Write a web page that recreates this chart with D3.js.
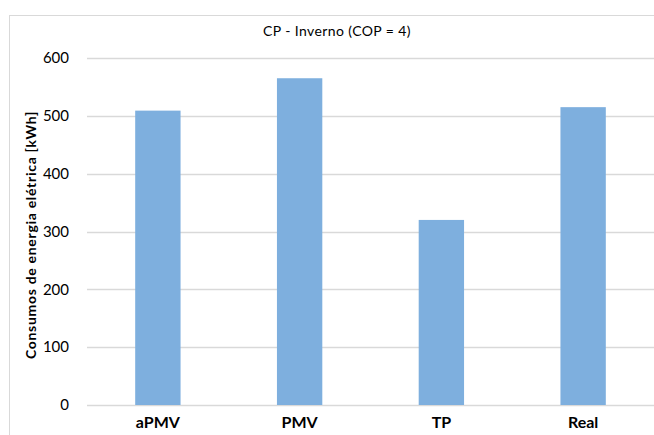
<!DOCTYPE html>
<html lang="pt">
<head>
<meta charset="utf-8">
<title>CP - Inverno</title>
<script src="https://cdn.jsdelivr.net/npm/d3@7"></script>
<style>
body { margin: 0; background: #fff; }
svg { display: block; font-family: Lato, "Open Sans", sans-serif; }
</style>
</head>
<body>
<script>
// data
var categories = ["aPMV", "PMV", "TP", "Real"];
var values = [509, 565, 320, 515];
var yTicks = [0, 100, 200, 300, 400, 500, 600];

var w = 654, h = 435;
var plotLeft = 87, plotRight = 654, plotTop = 58, plotBottom = 405;

var svg = d3.select("body").append("svg")
    .attr("width", w)
    .attr("height", h);

// chart area border (cropped on the right and bottom)
svg.append("rect")
    .attr("x", 9.5).attr("y", 15.5)
    .attr("width", 700).attr("height", 500)
    .attr("fill", "#fff")
    .attr("stroke", "#d9d9d9");

var x = d3.scaleBand()
    .domain(categories)
    .range([plotLeft, plotRight])
    .paddingInner(0.68)
    .paddingOuter(0.34);

var y = d3.scaleLinear()
    .domain([0, 600])
    .range([plotBottom, plotTop]);

// gridlines
svg.append("g")
    .selectAll("line")
    .data(yTicks)
    .enter()
    .append("line")
    .attr("x1", plotLeft).attr("x2", plotRight)
    .attr("y1", function(d) { return Math.round(y(d)) + 0.5; })
    .attr("y2", function(d) { return Math.round(y(d)) + 0.5; })
    .attr("stroke", "#d9d9d9")
    .attr("stroke-width", 1.3);

// y axis labels
var yAxis = d3.axisLeft(y).tickValues(yTicks).tickSize(0).tickPadding(18);
var gy = svg.append("g")
    .attr("transform", "translate(" + plotLeft + ",0)")
    .call(yAxis);
gy.select(".domain").remove();
gy.selectAll("text")
    .attr("font-size", 15)
    .attr("fill", "#000")
    .attr("font-family", "Lato, sans-serif");

// bars
svg.append("g")
    .selectAll("rect")
    .data(values)
    .enter()
    .append("rect")
    .attr("x", function(d, i) { return x(categories[i]); })
    .attr("y", function(d) { return y(d); })
    .attr("width", x.bandwidth())
    .attr("height", function(d) { return y(0) - y(d); })
    .attr("fill", "#7eafde");

// x axis labels
var xAxis = d3.axisBottom(x).tickSize(0).tickPadding(12);
var gx = svg.append("g")
    .attr("transform", "translate(0," + plotBottom + ")")
    .call(xAxis);
gx.select(".domain").remove();
gx.selectAll("text")
    .attr("font-size", 16)
    .attr("font-weight", "bold")
    .attr("fill", "#000")
    .attr("font-family", "Lato, sans-serif");

// title
svg.append("text")
    .attr("x", 337).attr("y", 36)
    .attr("text-anchor", "middle")
    .attr("font-size", 14)
    .attr("letter-spacing", 0.4)
    .attr("fill", "#000")
    .text("CP - Inverno (COP = 4)");

// y axis title
svg.append("text")
    .attr("transform", "translate(36,235) rotate(-90)")
    .attr("text-anchor", "middle")
    .attr("font-size", 14)
    .attr("letter-spacing", 0.7)
    .attr("font-weight", "bold")
    .attr("fill", "#000")
    .text("Consumos de energia elétrica [kWh]");
</script>
</body>
</html>
